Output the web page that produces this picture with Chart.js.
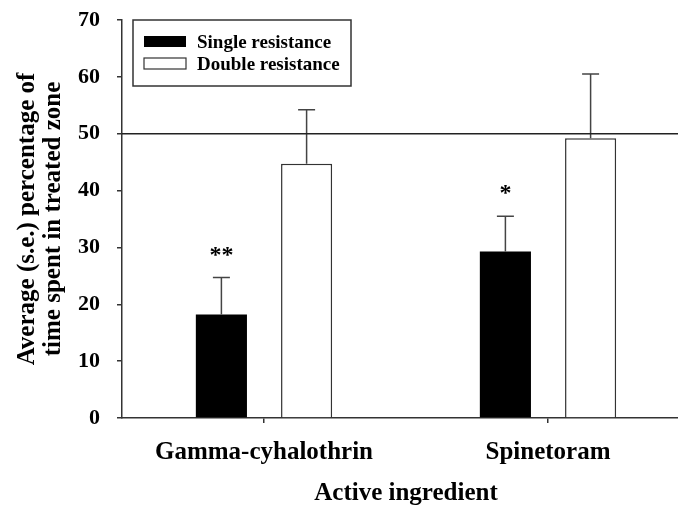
<!DOCTYPE html>
<html>
<head>
<meta charset="utf-8">
<script src="https://cdn.jsdelivr.net/npm/chart.js@4/dist/chart.umd.min.js"></script>
<style>
  html, body { margin: 0; padding: 0; background: #fff; overflow: hidden; }
  #wrap { width: 678px; height: 507px; overflow: hidden; position: relative; }
  canvas { display: block; }
</style>
</head>
<body>
<div id="wrap"><canvas id="c" width="700" height="507"></canvas></div>
<script>
const categories = ['Gamma-cyhalothrin', 'Spinetoram'];
const seriesNames = ['Single resistance', 'Double resistance'];
const singleValues = [18.2, 29.3];
const doubleValues = [44.7, 49.2];
const singleErrors = [6.5, 6.2];
const doubleErrors = [9.5, 11.3];
const singleMarks = ['**', '*'];
const referenceValue = 50;
const yTicks = [0, 10, 20, 30, 40, 50, 60, 70];

const SERIF = '"Liberation Serif", "Times New Roman", serif';
const AXIS_COLOR = '#333';

const errorsByDataset = [singleErrors, doubleErrors];
const marksByDataset = [singleMarks, null];

const overlayPlugin = {
  id: 'overlay',
  afterDatasetsDraw(chart) {
    const ctx = chart.ctx;
    const y = chart.scales.y;
    const area = chart.chartArea;
    chart.data.datasets.forEach((ds, di) => {
      const meta = chart.getDatasetMeta(di);
      meta.data.forEach((bar, i) => {
        const v = ds.data[i];
        const e = errorsByDataset[di][i];
        const yTop = y.getPixelForValue(v + e);
        const yBar = y.getPixelForValue(v);
        ctx.save();
        ctx.strokeStyle = '#444';
        ctx.lineWidth = 1.5;
        ctx.beginPath();
        ctx.moveTo(bar.x, yBar);
        ctx.lineTo(bar.x, yTop);
        ctx.moveTo(bar.x - 8.5, yTop);
        ctx.lineTo(bar.x + 8.5, yTop);
        ctx.stroke();
        ctx.restore();
        const marks = marksByDataset[di];
        if (marks && marks[i]) {
          ctx.save();
          ctx.fillStyle = '#000';
          ctx.font = 'bold 24px ' + SERIF;
          ctx.textAlign = 'center';
          ctx.textBaseline = 'middle';
          ctx.fillText(marks[i], bar.x, yTop - 22);
          ctx.restore();
        }
      });
    });
    const yr = y.getPixelForValue(referenceValue);
    ctx.save();
    ctx.strokeStyle = '#222';
    ctx.lineWidth = 1.5;
    ctx.beginPath();
    ctx.moveTo(area.left, yr);
    ctx.lineTo(area.right, yr);
    ctx.stroke();
    ctx.restore();
  },
  afterDraw(chart) {
    const ctx = chart.ctx;
    ctx.save();
    ctx.strokeStyle = '#333';
    ctx.lineWidth = 1.5;
    ctx.fillStyle = '#fff';
    ctx.fillRect(133, 20, 218, 66);
    ctx.strokeRect(133, 20, 218, 66);
    ctx.font = 'bold 19px ' + SERIF;
    ctx.textBaseline = 'middle';
    ctx.textAlign = 'left';
    chart.data.datasets.forEach((ds, di) => {
      const cy = di === 0 ? 42 : 64;
      ctx.fillStyle = ds.backgroundColor;
      ctx.fillRect(144, cy - 6, 42, 11);
      if (ds.borderWidth) {
        ctx.strokeStyle = ds.borderColor;
        ctx.lineWidth = 1.2;
        ctx.strokeRect(144, cy - 6, 42, 11);
      }
      ctx.fillStyle = '#000';
      ctx.fillText(ds.label, 197, cy + 1);
    });
    ctx.restore();
  }
};

new Chart(document.getElementById('c'), {
  type: 'bar',
  data: {
    labels: categories,
    datasets: [
      {
        label: seriesNames[0],
        data: singleValues,
        backgroundColor: '#000',
        borderColor: '#000',
        borderWidth: 0,
        categoryPercentage: 0.6,
        barPercentage: 0.6
      },
      {
        label: seriesNames[1],
        data: doubleValues,
        backgroundColor: '#fff',
        borderColor: '#333',
        borderWidth: 1.5,
        categoryPercentage: 0.6,
        barPercentage: 0.6
      }
    ]
  },
  options: {
    responsive: false,
    animation: false,
    layout: { padding: { top: 20, right: 10, left: 0, bottom: 0 } },
    plugins: {
      legend: { display: false },
      tooltip: { enabled: false }
    },
    scales: {
      x: {
        grid: {
          display: true,
          drawOnChartArea: false,
          drawTicks: true,
          tickLength: 5,
          offset: false,
          color: AXIS_COLOR,
          lineWidth: 1.5
        },
        border: { display: true, color: AXIS_COLOR, width: 1.5 },
        ticks: {
          color: '#000',
          font: { family: SERIF, size: 25, weight: 'bold', lineHeight: 1.2 },
          padding: 15,
          maxRotation: 0
        },
        title: {
          display: true,
          text: 'Active ingredient',
          color: '#000',
          font: { family: SERIF, size: 25, weight: 'bold', lineHeight: 1.04 },
          padding: { top: 0, bottom: 0 }
        },
        afterFit(scale) {
          scale.height = 89;
          scale.paddingLeft = 0;
          scale.paddingRight = 0;
        }
      },
      y: {
        min: 0,
        max: 70,
        afterBuildTicks(scale) { scale.ticks = yTicks.map(v => ({ value: v })); },
        grid: {
          display: true,
          drawOnChartArea: false,
          drawTicks: true,
          tickLength: 5,
          color: AXIS_COLOR,
          lineWidth: 1.5
        },
        border: { display: true, color: AXIS_COLOR, width: 1.5 },
        ticks: {
          color: '#000',
          font: { family: SERIF, size: 22, weight: 'bold' },
          padding: 17
        },
        title: {
          display: true,
          text: ['Average (s.e.) percentage of', 'time spent in treated zone'],
          color: '#000',
          font: { family: SERIF, size: 25, weight: 'bold', lineHeight: 1.04 },
          padding: { top: 15, bottom: 0 }
        },
        afterFit(scale) {
          scale.width = 122;
          scale.paddingTop = 0;
          scale.paddingBottom = 0;
        }
      }
    }
  },
  plugins: [overlayPlugin]
});
</script>
</body>
</html>
